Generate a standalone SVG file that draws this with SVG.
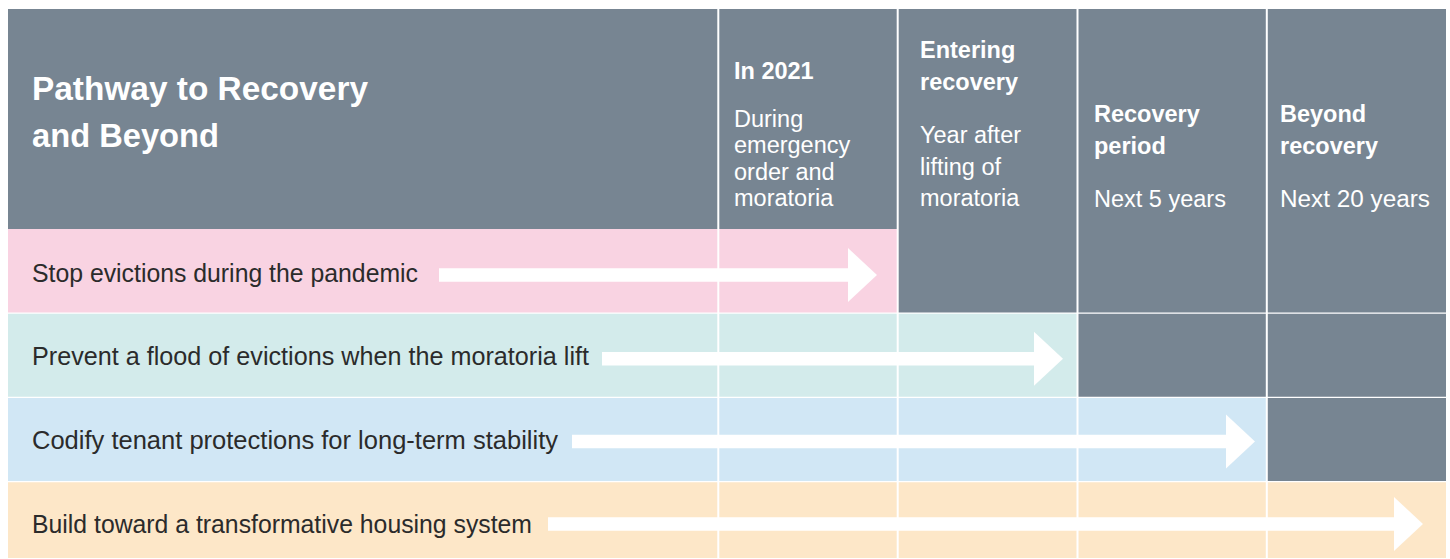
<svg xmlns="http://www.w3.org/2000/svg" width="1450" height="559" viewBox="0 0 1450 559">
  <style>
    .hdr { fill: #778592; }
    .pink { fill: #f9d3e2; }
    .teal { fill: #d3ebeb; }
    .blue { fill: #d1e7f5; }
    .sand { fill: #fde7c8; }
    .grid-v { stroke: #ffffff; stroke-width: 2; }
    .grid-h { stroke: #ffffff; stroke-width: 1.3; }
    .title { font-family: "Liberation Sans", Arial, sans-serif; font-weight: bold; font-size: 33px; fill: #ffffff; }
    .phase { font-family: "Liberation Sans", Arial, sans-serif; font-weight: bold; font-size: 23.5px; fill: #ffffff; }
    .span { font-family: "Liberation Sans", Arial, sans-serif; font-size: 23.5px; fill: #ffffff; }
    .goal { font-family: "Liberation Sans", Arial, sans-serif; font-size: 25px; fill: #2b2b2b; }
    .shaft { stroke: #ffffff; stroke-width: 13.4; fill: none; marker-end: url(#head); }
  </style>
  <defs>
    <marker id="head" markerUnits="userSpaceOnUse" markerWidth="30" markerHeight="54" refX="1" refY="27" orient="auto" overflow="visible">
      <path d="M0,0 L29,27 L0,54 Z" fill="#ffffff"/>
    </marker>
  </defs>

  <!-- background bands -->
  <g id="bands">
    <rect class="hdr" x="8" y="9" width="1438" height="220"/>
    <rect class="pink" x="8" y="229" width="890" height="84"/>
    <rect class="hdr" x="898" y="229" width="548" height="84"/>
    <rect class="teal" x="8" y="313" width="1070" height="84"/>
    <rect class="hdr" x="1078" y="313" width="368" height="84"/>
    <rect class="blue" x="8" y="397" width="1259" height="84.5"/>
    <rect class="hdr" x="1267" y="397" width="179" height="84.5"/>
    <rect class="sand" x="8" y="481.5" width="1438" height="76.5"/>
  </g>

  <!-- grid lines -->
  <g id="grid">
    <line class="grid-v" x1="718.3" y1="9" x2="718.3" y2="558"/>
    <line class="grid-v" x1="897.7" y1="9" x2="897.7" y2="558"/>
    <line class="grid-v" x1="1077.5" y1="9" x2="1077.5" y2="558"/>
    <line class="grid-v" x1="1266.8" y1="9" x2="1266.8" y2="558"/>
    <line class="grid-h" x1="8" y1="313.2" x2="1446" y2="313.2"/>
    <line class="grid-h" x1="8" y1="397.3" x2="1446" y2="397.3"/>
    <line class="grid-h" x1="8" y1="481.6" x2="1446" y2="481.6"/>
  </g>

  <!-- header: title -->
  <g id="title">
    <text class="title" x="32" y="100" textLength="336" lengthAdjust="spacingAndGlyphs">Pathway to Recovery</text>
    <text class="title" x="32" y="147" textLength="187" lengthAdjust="spacingAndGlyphs">and Beyond</text>
  </g>

  <!-- header: phases -->
  <g id="phase-2021">
    <text class="phase" x="734" y="79">In 2021</text>
    <text class="span" x="734" y="127">During</text>
    <text class="span" x="734" y="153">emergency</text>
    <text class="span" x="734" y="179.5">order and</text>
    <text class="span" x="734" y="206">moratoria</text>
  </g>
  <g id="phase-entering">
    <text class="phase" x="920" y="58">Entering</text>
    <text class="phase" x="920" y="90">recovery</text>
    <text class="span" x="920" y="143">Year after</text>
    <text class="span" x="920" y="174.5">lifting of</text>
    <text class="span" x="920" y="206">moratoria</text>
  </g>
  <g id="phase-recovery">
    <text class="phase" x="1094" y="122">Recovery</text>
    <text class="phase" x="1094" y="153.5">period</text>
    <text class="span" x="1094" y="206.5">Next 5 years</text>
  </g>
  <g id="phase-beyond">
    <text class="phase" x="1280" y="122">Beyond</text>
    <text class="phase" x="1280" y="153.5">recovery</text>
    <text class="span" x="1280" y="206.5" textLength="150" lengthAdjust="spacingAndGlyphs">Next 20 years</text>
  </g>

  <!-- goal rows -->
  <g id="goal-stop">
    <text class="goal" x="32" y="282" textLength="386" lengthAdjust="spacingAndGlyphs">Stop evictions during the pandemic</text>
  </g>
  <g id="goal-prevent">
    <text class="goal" x="32" y="365" textLength="557" lengthAdjust="spacingAndGlyphs">Prevent a flood of evictions when the moratoria lift</text>
  </g>
  <g id="goal-codify">
    <text class="goal" x="32" y="449" textLength="526" lengthAdjust="spacingAndGlyphs">Codify tenant protections for long-term stability</text>
  </g>
  <g id="goal-build">
    <text class="goal" x="32" y="533" textLength="500" lengthAdjust="spacingAndGlyphs">Build toward a transformative housing system</text>
  </g>

  <!-- arrows -->
  <g id="connectors">
    <line class="shaft" x1="439" y1="275" x2="849" y2="275"/>
    <line class="shaft" x1="602" y1="358.7" x2="1035" y2="358.7"/>
    <line class="shaft" x1="572" y1="441.5" x2="1227" y2="441.5"/>
    <line class="shaft" x1="548" y1="524" x2="1395" y2="524"/>
  </g>
</svg>
